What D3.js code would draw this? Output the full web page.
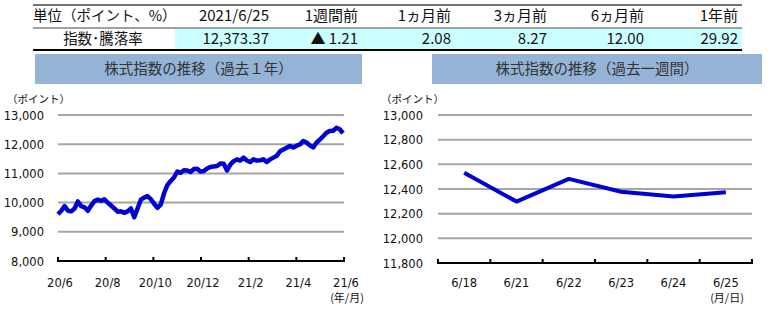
<!DOCTYPE html>
<html><head><meta charset="utf-8">
<script src="https://cdn.jsdelivr.net/npm/d3@7"></script>
<style>
body{margin:0;background:#fff;}
svg{display:block;}
</style></head><body>
<svg id="c" width="771" height="333"></svg>
<script>
// ---- data ----
const tableHeaders = ["2021/6/25", "1週間前", "1ヵ月前", "3ヵ月前", "6ヵ月前", "1年前"];
const tableValues = ["12,373.37", "▲ 1.21", "2.08", "8.27", "12.00", "29.92"];
const tableUnitLabel = "単位（ポイント、%）";
const tableRowLabel = "指数･騰落率";

const yearTitle = "株式指数の推移（過去１年）";
const weekTitle = "株式指数の推移（過去一週間）";
const yearTickLabels = ["20/6", "20/8", "20/10", "20/12", "21/2", "21/4", "21/6"];
const yearYTicks = [8000, 9000, 10000, 11000, 12000, 13000];
const yearValues = [9600, 9720, 9880, 9720, 9700, 9800, 10040, 9880, 9840, 9720,
  9900, 10050, 10100, 10060, 10110, 10000, 9900, 9800, 9690, 9700,
  9650, 9700, 9800, 9500, 9800, 10100, 10170, 10220, 10120, 9960,
  9820, 9930, 10320, 10600, 10740, 10860, 11060, 11020, 11110, 11100,
  11050, 11150, 11160, 11060, 11080, 11170, 11220, 11240, 11250, 11340,
  11330, 11100, 11300, 11420, 11480, 11440, 11540, 11440, 11390, 11480,
  11440, 11450, 11480, 11390, 11480, 11540, 11600, 11760, 11820, 11880,
  11940, 11890, 11950, 11990, 12110, 12060, 11960, 11890, 12050, 12160,
  12270, 12390, 12450, 12460, 12560, 12510, 12373];

const weekDates = ["6/18", "6/21", "6/22", "6/23", "6/24", "6/25"];
const weekValues = [12532, 12298, 12482, 12378, 12340, 12373];
const weekYTicks = [11800, 12000, 12200, 12400, 12600, 12800, 13000];

// ---- drawing ----
const svg = d3.select("#c");
const JP = "'Noto Sans CJK JP', sans-serif";
const NUM = "'DejaVu Sans', sans-serif";
const LINE = "#0000d2";
const GRID = "#a6a6a6";

// table
const colRight = [269, 358, 451, 547, 644, 738];
svg.append("rect").attr("x", 175).attr("y", 28.5).attr("width", 567).attr("height", 21).attr("fill", "#ccffff");
svg.append("line").attr("x1", 33).attr("x2", 742).attr("y1", 5).attr("y2", 5).attr("stroke", "#444").attr("stroke-width", 1.5);
svg.append("line").attr("x1", 33).attr("x2", 742).attr("y1", 28).attr("y2", 28).attr("stroke", "#444").attr("stroke-width", 1);
svg.append("line").attr("x1", 33).attr("x2", 742).attr("y1", 50).attr("y2", 50).attr("stroke", "#000").attr("stroke-width", 2);
svg.append("text").attr("x", 33).attr("y", 21).attr("font-family", JP).attr("font-size", 14.5).attr("fill", "#111").text(tableUnitLabel);
svg.append("text").attr("x", 103).attr("y", 44).attr("text-anchor", "middle").attr("font-family", JP).attr("font-size", 14.5).attr("fill", "#111").text(tableRowLabel);
svg.selectAll("text.th").data(tableHeaders).join("text").attr("class", "th")
  .attr("x", (d, i) => colRight[i]).attr("y", 21).attr("text-anchor", "end")
  .attr("font-family", JP).attr("font-size", 15).attr("fill", "#111").text(d => d);
svg.selectAll("text.tv").data(tableValues).join("text").attr("class", "tv")
  .attr("x", (d, i) => colRight[i]).attr("y", 44).attr("text-anchor", "end")
  .attr("font-family", JP).attr("font-size", 15).attr("fill", "#111").text(d => d);

// title bars
function titleBar(x, w, t) {
  svg.append("rect").attr("x", x).attr("y", 54).attr("width", w).attr("height", 30).attr("fill", "#95b3d7");
  svg.append("text").attr("x", x + w / 2).attr("y", 74).attr("text-anchor", "middle")
    .attr("font-family", JP).attr("font-size", 14.5).attr("fill", "#333").text(t);
}
titleBar(35, 327, yearTitle);
titleBar(432, 330, weekTitle);

// ---------- left chart ----------
const L = { x0: 58, x1: 344, yTop: 115, yBot: 261 };
const yL = d3.scaleLinear().domain([8000, 13000]).range([L.yBot, L.yTop]);
const xL = d3.scaleLinear().domain([0, yearValues.length - 1]).range([L.x0, L.x1 - 1]);
const xLt = d3.scalePoint().domain(yearTickLabels).range([L.x0, L.x1]);

const gL = svg.append("g");
gL.selectAll("line.g").data(yearYTicks.slice(1)).join("line")
  .attr("x1", L.x0).attr("x2", L.x1).attr("y1", d => yL(d)).attr("y2", d => yL(d))
  .attr("stroke", GRID).attr("stroke-width", 2);
gL.selectAll("text.yt").data(yearYTicks).join("text")
  .attr("x", 44).attr("y", d => yL(d) + 4.5).attr("text-anchor", "end")
  .attr("font-family", NUM).attr("font-size", 11.5).attr("fill", "#111")
  .text(d => d3.format(",")(d));
gL.append("text").attr("x", 7).attr("y", 103).attr("font-family", JP).attr("font-size", 10.5).attr("fill", "#111").text("（ポイント）");
gL.append("path").datum(yearValues)
  .attr("d", d3.line().x((d, i) => xL(i)).y(d => yL(d)))
  .attr("fill", "none").attr("stroke", LINE).attr("stroke-width", 4.5).attr("stroke-linejoin", "round");
gL.append("line").attr("x1", L.x0).attr("x2", L.x1).attr("y1", L.yBot).attr("y2", L.yBot).attr("stroke", "#000").attr("stroke-width", 2);
gL.selectAll("line.tk").data(yearTickLabels).join("line")
  .attr("x1", d => xLt(d)).attr("x2", d => xLt(d)).attr("y1", L.yBot - 4).attr("y2", L.yBot + 1)
  .attr("stroke", "#000").attr("stroke-width", 2);
gL.selectAll("text.xt").data(yearTickLabels).join("text")
  .attr("x", d => xLt(d) + 2).attr("y", 287).attr("text-anchor", "middle")
  .attr("font-family", NUM).attr("font-size", 11.5).attr("fill", "#111").text(d => d);
gL.append("text").attr("x", 347).attr("y", 302).attr("text-anchor", "middle").attr("font-family", JP).attr("font-size", 11).attr("fill", "#111").text("(年/月)");

// ---------- right chart ----------
const R = { x0: 438, x1: 752, yTop: 115, yBot: 263 };
const yR = d3.scaleLinear().domain([11800, 13000]).range([R.yBot, R.yTop]);
const xR = d3.scaleBand().domain(weekDates).range([R.x0, R.x1]);
const gR = svg.append("g");
gR.selectAll("line.g").data(weekYTicks.slice(1)).join("line")
  .attr("x1", R.x0).attr("x2", R.x1).attr("y1", d => yR(d)).attr("y2", d => yR(d))
  .attr("stroke", GRID).attr("stroke-width", 2);
gR.selectAll("text.yt").data(weekYTicks).join("text")
  .attr("x", 423).attr("y", d => yR(d) + 4.5).attr("text-anchor", "end")
  .attr("font-family", NUM).attr("font-size", 11.5).attr("fill", "#111")
  .text(d => d3.format(",")(d));
gR.append("text").attr("x", 381).attr("y", 103).attr("font-family", JP).attr("font-size", 10.5).attr("fill", "#111").text("（ポイント）");
gR.append("path").datum(weekValues)
  .attr("d", d3.line().x((d, i) => xR(weekDates[i]) + xR.bandwidth() / 2).y(d => yR(d)))
  .attr("fill", "none").attr("stroke", LINE).attr("stroke-width", 4).attr("stroke-linejoin", "round");
gR.append("line").attr("x1", R.x0).attr("x2", R.x1).attr("y1", R.yBot).attr("y2", R.yBot).attr("stroke", "#000").attr("stroke-width", 2);
const edges = weekDates.map(d => xR(d)).concat([R.x1]);
gR.selectAll("line.tk").data(edges).join("line")
  .attr("x1", d => d).attr("x2", d => d).attr("y1", R.yBot - 4).attr("y2", R.yBot + 1)
  .attr("stroke", "#000").attr("stroke-width", 2);
gR.selectAll("text.xt").data(weekDates).join("text")
  .attr("x", d => xR(d) + xR.bandwidth() / 2).attr("y", 287).attr("text-anchor", "middle")
  .attr("font-family", NUM).attr("font-size", 11.5).attr("fill", "#111").text(d => d);
gR.append("text").attr("x", 727).attr("y", 302).attr("text-anchor", "middle").attr("font-family", JP).attr("font-size", 11).attr("fill", "#111").text("(月/日)");
</script>
</body></html>
